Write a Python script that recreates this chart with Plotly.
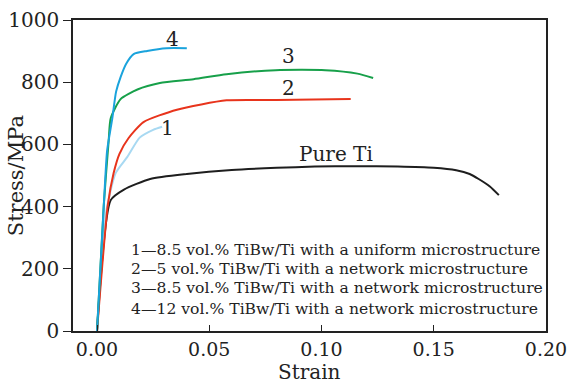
import plotly.graph_objects as go

# Curve data (strain, stress MPa)
pure_ti_strain = [0.0, 0.0061, 0.012, 0.0237, 0.040, 0.060, 0.080, 0.097, 0.115, 0.134, 0.150, 0.160, 0.166, 0.170, 0.175, 0.179]
pure_ti_stress = [0, 421, 455, 489, 505, 518, 525, 529, 530, 529, 525, 517, 505, 489, 465, 437]

c1_strain = [0.0, 0.004, 0.0083, 0.0135, 0.019, 0.025, 0.029]
c1_stress = [0, 380, 508, 560, 622, 647, 657]

c2_strain = [0.0, 0.0048, 0.0074, 0.010, 0.014, 0.0207, 0.0356, 0.0577, 0.080, 0.113]
c2_stress = [0, 405, 508, 570, 620, 672, 712, 742, 743, 746]

c3_strain = [0.0, 0.003, 0.0052, 0.0061, 0.0105, 0.018, 0.028, 0.043, 0.0577, 0.0796, 0.1017, 0.116, 0.123]
c3_stress = [0, 405, 613, 684, 746, 777, 798, 810, 826, 839, 839, 828, 814]

c4_strain = [0.0, 0.003, 0.0045, 0.0068, 0.0085, 0.0105, 0.013, 0.0163, 0.0223, 0.031, 0.040]
c4_stress = [0, 400, 580, 684, 770, 817, 860, 891, 901, 910, 910]

legend_lines = [
    "1\u20148.5 vol.% TiBw/Ti with a uniform microstructure",
    "2\u20145 vol.% TiBw/Ti with a network microstructure",
    "3\u20148.5 vol.% TiBw/Ti with a network microstructure",
    "4\u201412 vol.% TiBw/Ti with a network microstructure",
]
legend_y = [261, 198, 137, 71]

curve_labels = ["4", "3", "2", "1", "Pure Ti"]
curve_label_x = [0.0338, 0.0855, 0.0855, 0.0312, 0.1066]
curve_label_y = [941, 885, 783, 653, 570]

x_ticks = [0.0, 0.05, 0.10, 0.15, 0.20]
x_ticklabels = ["0.00", "0.05", "0.10", "0.15", "0.20"]
y_ticks = [0, 200, 400, 600, 800, 1000]

FONT = "DejaVu Serif, Liberation Serif, serif"
TXT = "#222222"

fig = go.Figure()
series = [
    (pure_ti_strain, pure_ti_stress, "#1e1e1e"),
    (c1_strain, c1_stress, "#a8d9f2"),
    (c2_strain, c2_stress, "#e8341c"),
    (c3_strain, c3_stress, "#17a04a"),
    (c4_strain, c4_stress, "#1aa3dc"),
]
for xs, ys, col in series:
    fig.add_trace(go.Scatter(x=xs, y=ys, mode="lines",
                             line=dict(color=col, width=2, shape="spline", smoothing=0.6),
                             showlegend=False, hoverinfo="skip"))

for x, y, t in zip(curve_label_x, curve_label_y, curve_labels):
    fig.add_annotation(x=x, y=y, text=t, showarrow=False, font=dict(family=FONT, size=20, color=TXT),
                       xanchor="center", yanchor="middle")

for y, t in zip(legend_y, legend_lines):
    fig.add_annotation(x=0.0144, y=y, text=t, showarrow=False, xanchor="left", yanchor="middle",
                       font=dict(family=FONT, size=15.6, color=TXT))

# axis titles
fig.add_annotation(xref="paper", yref="paper", x=(14 - 72) / 479, y=0.5, text="Stress/MPa",
                   textangle=-90, showarrow=False, xanchor="center", yanchor="middle",
                   font=dict(family=FONT, size=21, color=TXT))
fig.add_annotation(xref="paper", yref="paper", x=(312 - 72) / 479, y=(331 - 374) / 323, text="Strain",
                   showarrow=False, xanchor="center", yanchor="middle",
                   font=dict(family=FONT, size=20, color=TXT))

fig.update_layout(
    width=575, height=384,
    margin=dict(l=72, r=24, t=8, b=53),
    plot_bgcolor="white", paper_bgcolor="white",
    font=dict(family=FONT, color=TXT),
)
fig.update_xaxes(range=[-0.0107, 0.2], tickvals=x_ticks, ticktext=x_ticklabels, ticks="inside", ticklen=6,
                 tickcolor=TXT, showline=True, linecolor=TXT, linewidth=1.5, mirror=True,
                 showgrid=False, zeroline=False, tickfont=dict(size=19, family=FONT, color=TXT),
                 ticklabeloverflow="allow")
fig.update_yaxes(range=[0, 1000.5], tickvals=y_ticks, ticks="outside", ticklen=8, tickcolor=TXT,
                 showline=True, linecolor=TXT, linewidth=1.5, mirror=True,
                 showgrid=False, zeroline=False, tickfont=dict(size=20, family=FONT, color=TXT),
                 ticklabeloverflow="allow")

fig.write_html("out.html", config={"displayModeBar": False},
               post_script="document.body.style.margin='0';document.body.style.overflow='hidden';")
